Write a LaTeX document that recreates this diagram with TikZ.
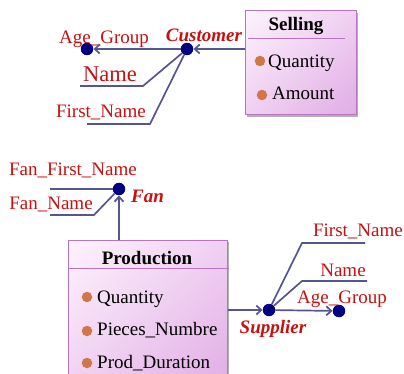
\documentclass[tikz,border=0pt]{standalone}
\usepackage{fontspec}
\setmainfont{Liberation Serif}
\usetikzlibrary{arrows.meta,shadows,shadings}
\definecolor{lblred}{RGB}{200,16,16}
\definecolor{conn}{RGB}{85,85,145}
\definecolor{dotblue}{RGB}{0,0,130}
\definecolor{boxedge}{RGB}{185,115,195}
\definecolor{boxlight}{RGB}{253,243,253}
\definecolor{boxmid}{RGB}{240,208,242}
\definecolor{boxdark}{RGB}{224,172,228}
\definecolor{bulletc}{RGB}{208,118,72}
\tikzset{
  lbl/.style={text=lblred, font=\fontsize{19}{22}\selectfont, inner sep=0pt, anchor=base},
  role/.style={text=lblred, font=\fontsize{19}{22}\selectfont\bfseries\itshape, inner sep=0pt, anchor=base},
  item/.style={font=\fontsize{19}{22}\selectfont, inner sep=0pt, anchor=base west},
  ttl/.style={font=\fontsize{19}{22}\selectfont\bfseries, inner sep=0pt, anchor=base},
  dotn/.style={circle, fill=dotblue, inner sep=0pt, minimum size=12.5pt},
  bul/.style={circle, inner sep=0pt, minimum size=10.5pt, fill=bulletc},
  classbox/.style={draw=boxedge, line width=1pt, inner sep=0pt,
    upper left=boxlight, upper right=boxmid, lower left=boxmid, lower right=boxdark,
    drop shadow={shadow xshift=2pt, shadow yshift=-2pt, fill=black, opacity=0.3}},
  sep/.style={draw=boxedge, line width=0.8pt},
  link/.style={draw=conn, line width=1.7pt},
  arr/.style={link, -{Straight Barb[length=5pt,width=9pt]}},
}
\begin{document}
\begin{tikzpicture}[x=1pt,y=-1pt]
\clip (0,0) rectangle (404,374);
\fill[white] (0,0) rectangle (404,374);

% ---------- top: Selling ----------
\node[classbox, minimum width=111pt, minimum height=104pt] (sell) at (300.5,63) {};
\draw[sep] (248,38) -- (345,38);
\node[ttl] (sellT) at (296,31) {Selling};
\node[bul] (sb1) at (260,61) {};
\node[item] (sq) at (268,68) {Quantity};
\node[bul] (sb2) at (262,95) {};
\node[item] (sa) at (272,100) {Amount};

\node[dotn] (cust) at (187,49) {};
\node[dotn] (ageT) at (87,49) {};
\node[role] (custL) at (204,42) {Customer};
\node[lbl] (ageTL) at (104,44) {Age\_Group};
\node[lbl, font=\fontsize{22.5}{26}\selectfont] (nameTL) at (110,82) {Name};
\node[lbl] (fnTL) at (101,118) {First\_Name};

\coordinate (nameK) at (143,86);
\coordinate (nameE) at (80,86);
\coordinate (fnK) at (150,124);
\coordinate (fnE) at (87,124);

\draw[arr] (sell.west |- cust) -- (cust);
\draw[arr] (cust) -- (ageT);
\draw[link] (cust) -- (nameK) -- (nameE);
\draw[link] (cust) -- (fnK) -- (fnE);

% ---------- bottom: Production ----------
\node[classbox, minimum width=159pt, minimum height=150pt] (prod) at (147.5,315) {};
\draw[sep] (68,268) -- (229,268);
\node[ttl] (prodT) at (147,264) {Production};
\node[bul] (pb1) at (87,297) {};
\node[item] (pq) at (97,303) {Quantity};
\node[bul] (pb2) at (87,331) {};
\node[item] (pp) at (97,335) {Pieces\_Numbre};
\node[bul] (pb3) at (87,363) {};
\node[item] (pd) at (97,368) {Prod\_Duration};

\node[dotn] (fan) at (119,189) {};
\node[role, anchor=base west] (fanL) at (131,202) {Fan};
\node[lbl] (ffnL) at (73,176) {Fan\_First\_Name};
\node[lbl] (fnmL) at (51,210) {Fan\_Name};
\coordinate (ffnE) at (50,189);
\coordinate (fnmK) at (94,215);
\coordinate (fnmE) at (50,215);

\draw[arr] (prod.north -| fan) -- (fan);
\draw[link] (fan) -- (ffnE);
\draw[link] (fan) -- (fnmK) -- (fnmE);

\node[dotn] (sup) at (269,310) {};
\node[dotn] (ageB) at (339,311) {};
\node[role] (supL) at (273,333) {Supplier};
\node[lbl] (ageBL) at (342,303) {Age\_Group};
\node[lbl] (nameBL) at (343,276) {Name};
\node[lbl] (fnBL) at (358,236) {First\_Name};
\coordinate (nK3) at (302,281);
\coordinate (nE3) at (367,281);
\coordinate (fK3) at (302,243);
\coordinate (fE3) at (365,243);

\draw[arr] (prod.east |- sup) -- (sup);
\draw[arr] (sup) -- (ageB);
\draw[link] (sup) -- (nK3) -- (nE3);
\draw[link] (sup) -- (fK3) -- (fE3);
\end{tikzpicture}
\end{document}
